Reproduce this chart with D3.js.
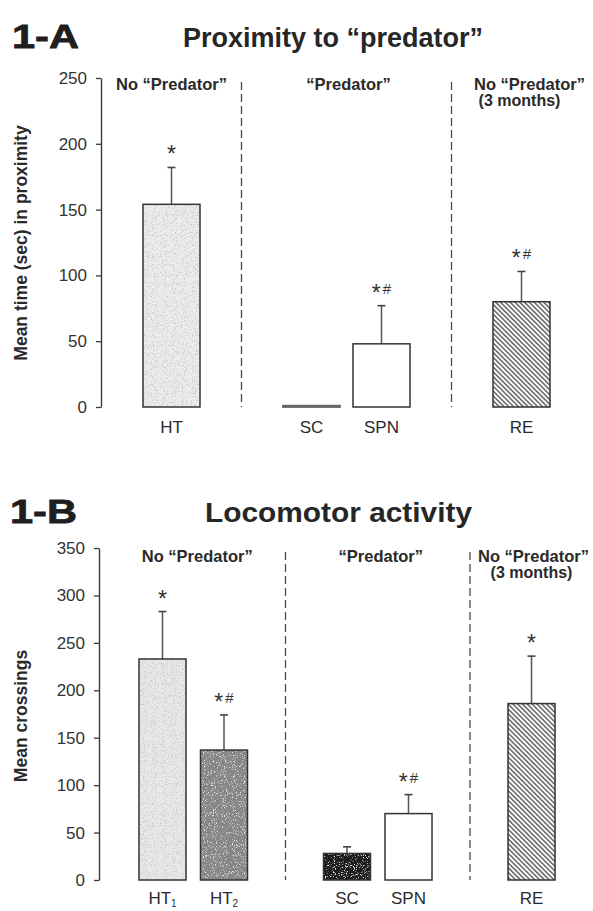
<!DOCTYPE html>
<html>
<head>
<meta charset="utf-8">
<script src="https://cdn.jsdelivr.net/npm/d3@7"></script>
<style>
  html, body { margin: 0; padding: 0; background: #fff; }
  svg { display: block; }
  text { font-family: "Liberation Sans", Arial, sans-serif; fill: #262626; }
</style>
</head>
<body>
<svg id="fig" width="593" height="911"></svg>
<script>
// ---- Panel 1-A: proximity to "predator" ----
const proxCategories = ["HT", "SC", "SPN", "RE"];
const proxMeans      = [154, 1, 48, 80];
const proxErrors     = [28, 0, 29, 23];
const proxMarks      = ["*", "", "*#", "*#"];
const proxGroups     = [["HT"], ["SC", "SPN"], ["RE"]];
const proxTicks      = [0, 50, 100, 150, 200, 250];

// ---- Panel 1-B: locomotor activity ----
const locoCategories = ["HT1", "HT2", "SC", "SPN", "RE"];
const locoMeans      = [233, 137, 28, 70, 186];
const locoErrors     = [50, 37, 7, 20, 50];
const locoMarks      = ["*", "*#", "", "*#", "*"];
const locoGroups     = [["HT1", "HT2"], ["SC", "SPN"], ["RE"]];
const locoTicks      = [0, 50, 100, 150, 200, 250, 300, 350];

// Group headings (same three conditions in both panels)
const groupHeadings = [["No \u201cPredator\u201d"], ["\u201cPredator\u201d"], ["No \u201cPredator\u201d", "(3 months)"]];

// Axis-label text for each category: [main, subscript]
const categoryText = {
  HT: ["HT", ""], HT1: ["HT", "1"], HT2: ["HT", "2"],
  SC: ["SC", ""], SPN: ["SPN", ""], RE: ["RE", ""]
};

const svg = d3.select("#fig");
const defs = svg.append("defs");

// Speckled fills: a thresholded noise layer clipped to the bar shape
function speckleFilter(id, rgb, gain, offset, freq, seed) {
  const f = defs.append("filter").attr("id", id)
    .attr("x", 0).attr("y", 0).attr("width", 1).attr("height", 1);
  f.append("feTurbulence").attr("type", "fractalNoise")
    .attr("baseFrequency", freq).attr("numOctaves", 2).attr("seed", seed).attr("result", "noise");
  f.append("feColorMatrix").attr("in", "noise").attr("type", "matrix")
    .attr("values", `0 0 0 0 ${rgb}  0 0 0 0 ${rgb}  0 0 0 0 ${rgb}  ${gain} 0 0 0 ${offset}`)
    .attr("result", "dots");
  f.append("feComposite").attr("in", "dots").attr("in2", "SourceGraphic").attr("operator", "in");
}
speckleFilter("speckDarkFine", 0.6, 6, -3.2, 0.9, 4);
speckleFilter("speckDarkHeavy", 0.25, 6, -2.9, 0.9, 7);
speckleFilter("speckLightOnDark", 0.75, 6, -3.4, 0.9, 11);
speckleFilter("speckLightOnMid", 0.78, 6, -3.4, 0.9, 19);

// Diagonal hatching
const hatch = defs.append("pattern").attr("id", "hatch")
  .attr("patternUnits", "userSpaceOnUse").attr("width", 3.4).attr("height", 3.4)
  .attr("patternTransform", "rotate(-45)");
hatch.append("rect").attr("width", 3.4).attr("height", 3.4).attr("fill", "#fff");
hatch.append("line").attr("x1", 0.8).attr("y1", 0).attr("x2", 0.8).attr("y2", 3.4)
  .attr("stroke", "#333").attr("stroke-width", 1.15);

// Bar appearance per category (fill plus optional grain layers)
const barStyle = {
  HT:  { fill: "#ececec", specks: ["speckDarkFine"] },
  HT1: { fill: "#e8e8e8", specks: ["speckDarkFine"] },
  HT2: { fill: "#858585", specks: ["speckDarkHeavy", "speckLightOnMid"] },
  SC:  { fill: "#1c1c1c", specks: ["speckLightOnDark"] },
  SPN: { fill: "#ffffff", specks: [] },
  RE:  { fill: "url(#hatch)", specks: [] }
};

function drawPanel(cfg) {
  const g = svg.append("g");

  // Slot layout: members of a group sit side by side, one empty slot between groups
  const slotOf = {};
  const groupSpans = [];
  let s = 0;
  cfg.groups.forEach((grp, gi) => {
    const first = s;
    grp.forEach(c => { slotOf[c] = s; s += 1; });
    groupSpans.push([first, s - 1]);
    if (gi < cfg.groups.length - 1) s += 1;
  });
  const lastSlot = s - 1;

  const x = d3.scaleLinear().domain([0, lastSlot]).range(cfg.xRange);
  const y = d3.scaleLinear().domain([0, d3.max(cfg.ticks)]).range(cfg.yRange);

  const data = cfg.categories.map((c, i) => ({
    key: c, mean: cfg.means[i], err: cfg.errors[i], mark: cfg.marks[i]
  }));

  // Titles
  g.append("text").attr("x", cfg.tagX).attr("y", cfg.titleY)
    .attr("font-size", 34).attr("font-weight", "bold")
    .attr("textLength", 67).attr("lengthAdjust", "spacingAndGlyphs")
    .attr("stroke", "#1e1e1e").attr("stroke-width", 0.8)
    .style("fill", "#1e1e1e").text(cfg.tag);
  g.append("text").attr("x", cfg.titleX).attr("y", cfg.titleY - 1)
    .attr("font-size", 27.5).attr("font-weight", "bold")
    .attr("textLength", cfg.titleLen).attr("lengthAdjust", "spacingAndGlyphs")
    .style("fill", "#262626").text(cfg.title);

  // Y axis
  const ax = g.append("g").attr("transform", `translate(${cfg.axisX},0)`)
    .call(d3.axisLeft(y).tickValues(cfg.ticks).tickFormat(d3.format("d"))
      .tickSize(5).tickSizeOuter(0).tickPadding(9));
  ax.select(".domain").attr("stroke", "#3a3a3a").attr("stroke-width", 1.4);
  ax.selectAll(".tick line").attr("stroke", "#3a3a3a").attr("stroke-width", 1.3);
  ax.selectAll(".tick text").attr("font-size", 17)
    .attr("font-family", "'Liberation Sans', Arial, sans-serif").style("fill", "#333");

  // Y axis title
  g.append("text")
    .attr("transform", `translate(${cfg.yLabelX},${cfg.yLabelY}) rotate(-90)`)
    .attr("text-anchor", "middle").attr("font-size", 17.5).attr("font-weight", "bold")
    .style("fill", "#2a2a2a").text(cfg.yLabel);

  // Dashed separators between groups
  for (let k = 0; k < groupSpans.length - 1; k++) {
    const sx = x((groupSpans[k][1] + groupSpans[k + 1][0]) / 2);
    g.append("line").attr("x1", sx).attr("x2", sx)
      .attr("y1", cfg.sepTop).attr("y2", y(0))
      .attr("stroke", "#4a4a4a").attr("stroke-width", 1.3)
      .attr("stroke-dasharray", "8,4");
  }

  // Group headings
  groupHeadings.forEach((lines, k) => {
    const cx = x((groupSpans[k][0] + groupSpans[k][1]) / 2);
    lines.forEach((ln, li) => {
      g.append("text")
        .attr("x", cx + (li === 0 ? cfg.headDx[k] : cfg.subDx))
        .attr("y", cfg.headY + li * 16)
        .attr("text-anchor", "middle").attr("font-size", li === 0 ? 16.5 : 16).attr("font-weight", "bold")
        .style("fill", "#2a2a2a").text(ln);
    });
  });

  const bw = cfg.barWidth;
  const bars = g.selectAll(".bar").data(data).join("g").attr("class", "bar");

  // Error bars (upper whisker only)
  bars.filter(d => d.err > 0).append("line")
    .attr("x1", d => x(slotOf[d.key])).attr("x2", d => x(slotOf[d.key]))
    .attr("y1", d => y(d.mean)).attr("y2", d => y(d.mean + d.err))
    .attr("stroke", "#555").attr("stroke-width", 1.5);
  bars.filter(d => d.err > 0).append("line")
    .attr("x1", d => x(slotOf[d.key]) - 4).attr("x2", d => x(slotOf[d.key]) + 4)
    .attr("y1", d => y(d.mean + d.err)).attr("y2", d => y(d.mean + d.err))
    .attr("stroke", "#444").attr("stroke-width", 1.6);

  // Bar bodies
  bars.append("rect")
    .attr("x", d => x(slotOf[d.key]) - bw / 2).attr("width", bw)
    .attr("y", d => y(d.mean)).attr("height", d => y(0) - y(d.mean))
    .attr("fill", d => barStyle[d.key].fill);
  bars.filter(d => d.mean > 5).each(function (d) {
    barStyle[d.key].specks.forEach(id => {
      d3.select(this).append("rect")
        .attr("x", x(slotOf[d.key]) - bw / 2).attr("width", bw)
        .attr("y", y(d.mean)).attr("height", y(0) - y(d.mean))
        .attr("fill", "#000").attr("filter", `url(#${id})`);
    });
  });
  bars.append("rect")
    .attr("x", d => x(slotOf[d.key]) - bw / 2).attr("width", bw)
    .attr("y", d => y(d.mean)).attr("height", d => Math.max(0.5, y(0) - y(d.mean)))
    .attr("fill", "none")
    .attr("stroke", d => d.mean > 5 ? "#333" : "#666")
    .attr("stroke-width", d => d.mean > 5 ? 1.5 : 1.8);

  // Significance markers: asterisk and hash
  const mk = bars.filter(d => d.mark).append("text")
    .attr("x", d => x(slotOf[d.key]))
    .attr("y", d => y(d.mean + d.err) - 9)
    .attr("text-anchor", "middle")
    .style("fill", "#333");
  mk.append("tspan").attr("font-size", 23).attr("dy", 4).text(d => d.mark.includes("*") ? "*" : "");
  mk.filter(d => d.mark.includes("#")).append("tspan")
    .attr("font-size", 15).attr("dy", -7).attr("dx", 2).text("#");

  // Category labels
  const lab = bars.append("text")
    .attr("x", d => x(slotOf[d.key]))
    .attr("y", y(0) + cfg.catDy)
    .attr("text-anchor", "middle").attr("font-size", 17)
    .style("fill", "#2a2a2a");
  lab.append("tspan").text(d => categoryText[d.key][0]);
  lab.filter(d => categoryText[d.key][1]).append("tspan")
    .attr("font-size", 10).attr("dy", 2.5).text(d => categoryText[d.key][1]);
}

drawPanel({
  tag: "1-A", title: "Proximity to \u201cpredator\u201d", tagX: 12, titleX: 183, titleY: 48, titleLen: 300,
  categories: proxCategories, means: proxMeans, errors: proxErrors, marks: proxMarks,
  groups: proxGroups, ticks: proxTicks,
  xRange: [171.5, 521.5], yRange: [407, 78], barWidth: 57, axisX: 101,
  yLabel: "Mean time (sec) in proximity", yLabelX: 27, yLabelY: 243,
  sepTop: 82, headY: 90, headDx: [0, 2, 8], subDx: -2, catDy: 26
});

drawPanel({
  tag: "1-B", title: "Locomotor activity", tagX: 10, titleX: 205, titleY: 523, titleLen: 267,
  categories: locoCategories, means: locoMeans, errors: locoErrors, marks: locoMarks,
  groups: locoGroups, ticks: locoTicks,
  xRange: [162.5, 531.5], yRange: [880, 548], barWidth: 47, axisX: 99,
  yLabel: "Mean crossings", yLabelX: 27, yLabelY: 716,
  sepTop: 552, headY: 562, headDx: [4, 3, 2], subDx: 0, catDy: 24
});
</script>
</body>
</html>
